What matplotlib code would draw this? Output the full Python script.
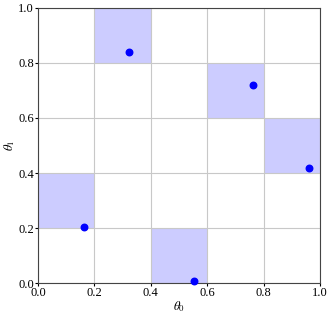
import matplotlib
matplotlib.use("Agg")
import matplotlib.pyplot as plt

plt.rcParams["font.family"] = "serif"
plt.rcParams["font.serif"] = ["Liberation Serif", "DejaVu Serif"]
plt.rcParams["mathtext.fontset"] = "stix"

# sample points
theta0 = [0.163, 0.323, 0.553, 0.762, 0.961]
theta1 = [0.204, 0.840, 0.006, 0.720, 0.418]

# selected latin hypercube cells (lower-left corners)
cell_x = [0.0, 0.2, 0.4, 0.6, 0.8]
cell_y = [0.2, 0.8, 0.0, 0.6, 0.4]
cell_size = 0.2

ticks = [0.0, 0.2, 0.4, 0.6, 0.8, 1.0]

fig = plt.figure(figsize=(3.32, 3.17), dpi=100)
ax = fig.add_axes([0.1145, 0.107, 0.8495, 0.868])

for cx, cy in zip(cell_x, cell_y):
    ax.add_patch(plt.Rectangle((cx, cy), cell_size, cell_size,
                               facecolor="#ccccff", edgecolor="none", zorder=0))

ax.scatter(theta0, theta1, s=22, color="blue", zorder=3, clip_on=False)

ax.set_xlim(0, 1)
ax.set_ylim(0, 1)
ax.set_xticks(ticks)
ax.set_yticks(ticks)
ax.grid(True, color="#c8c8c8", linewidth=0.8)
ax.set_axisbelow(True)
ax.tick_params(labelsize=9, length=2, width=0.8, pad=1)
ax.set_xlabel(r"$\theta_0$", fontsize=9, labelpad=0)
ax.set_ylabel(r"$\theta_1$", fontsize=9, labelpad=1)
for sp in ax.spines.values():
    sp.set_linewidth(0.8)
    sp.set_color("#444444")

fig.savefig("out.png", dpi=100)
